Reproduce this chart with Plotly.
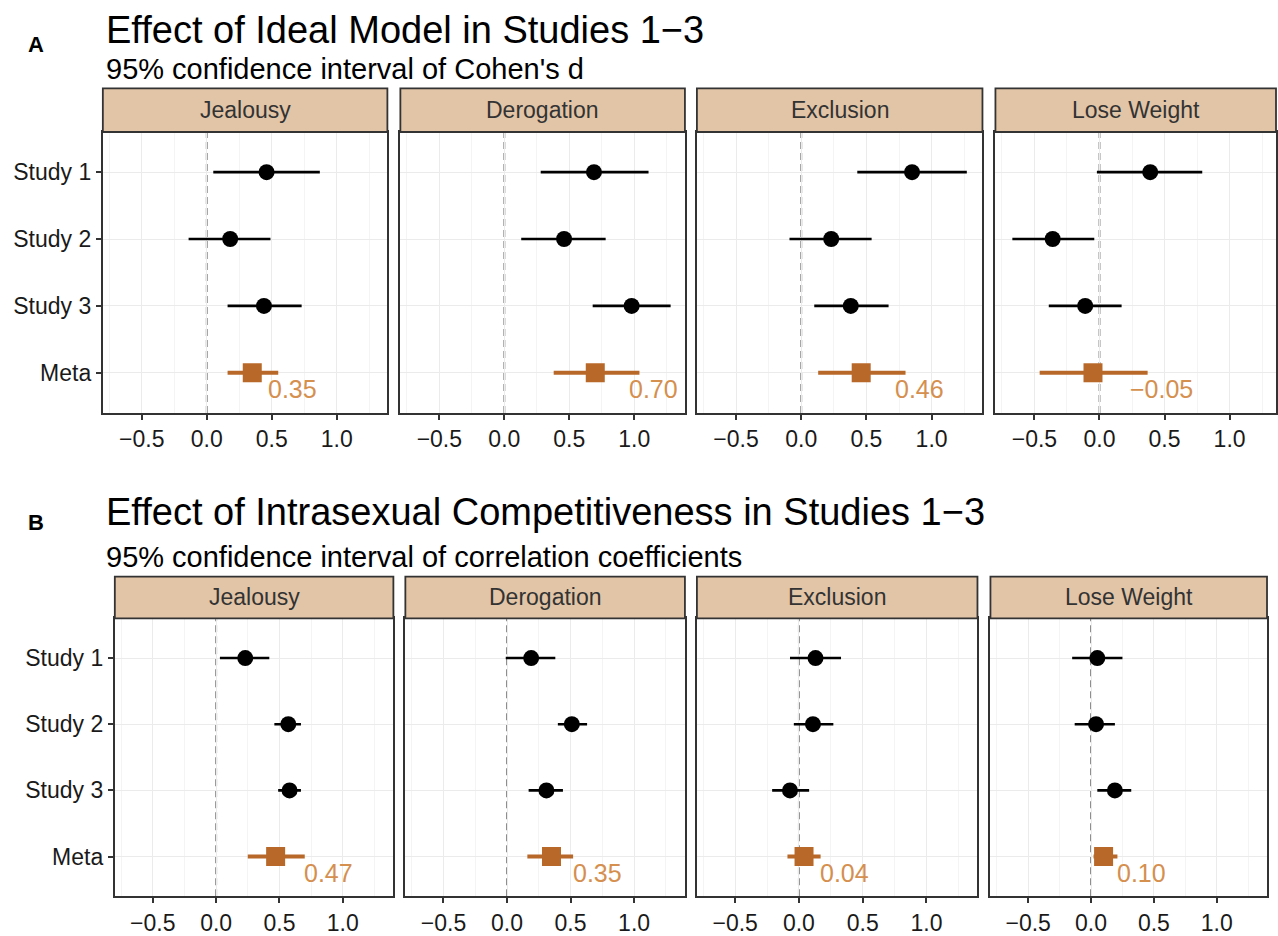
import plotly.graph_objects as go

W, H = 1278, 936

studies = ["Study 1", "Study 2", "Study 3", "Meta"]
outcomes = ["Jealousy", "Derogation", "Exclusion", "Lose Weight"]
x_tickvals = [-0.5, 0.0, 0.5, 1.0]
x_ticktext = ["\u22120.5", "0.0", "0.5", "1.0"]

# Panel A: Cohen's d (rows: Study 1, Study 2, Study 3, Meta)
a_est = [[0.46, 0.18, 0.44, 0.35],
         [0.69, 0.46, 0.98, 0.70],
         [0.85, 0.23, 0.38, 0.46],
         [0.39, -0.36, -0.11, -0.05]]
a_lo = [[0.05, -0.14, 0.16, 0.16],
        [0.28, 0.13, 0.68, 0.38],
        [0.43, -0.09, 0.10, 0.13],
        [-0.02, -0.67, -0.39, -0.46]]
a_hi = [[0.87, 0.49, 0.73, 0.55],
        [1.11, 0.78, 1.28, 1.04],
        [1.27, 0.54, 0.67, 0.80],
        [0.79, -0.04, 0.17, 0.37]]

# Panel B: correlation coefficients
b_est = [[0.23, 0.57, 0.58, 0.47],
         [0.19, 0.51, 0.31, 0.35],
         [0.13, 0.11, -0.07, 0.04],
         [0.05, 0.04, 0.19, 0.10]]
b_lo = [[0.03, 0.46, 0.49, 0.25],
        [-0.01, 0.40, 0.17, 0.16],
        [-0.07, -0.04, -0.21, -0.09],
        [-0.15, -0.13, 0.05, 0.02]]
b_hi = [[0.42, 0.67, 0.67, 0.70],
        [0.38, 0.63, 0.44, 0.52],
        [0.33, 0.27, 0.08, 0.17],
        [0.25, 0.19, 0.32, 0.21]]

FONT = "Liberation Sans, Arial, Helvetica, sans-serif"
DARK = "#333333"
STRIP = "#E2C5A7"
META_COL = "#B8692A"
META_TXT = "#D58F4E"
GRID = "#EBEBEB"
MINOR = "#F4F4F4"

rows = [
    dict(est=a_est, lo=a_lo, hi=a_hi, panel_y=(133, 416), strip_y=(89, 133),
         xs=[(103, 388), (401, 686), (698, 984), (997, 1278)],
         ranges=[(-0.8, 1.39), (-0.8, 1.39), (-0.8, 1.39), (-0.8, 1.357)],
         letter="A", letter_y=45, title="Effect of Ideal Model in Studies 1\u22123", title_y=30,
         subtitle="95% confidence interval of Cohen's d", subtitle_y=70, lab_dx=14),
    dict(est=b_est, lo=b_lo, hi=b_hi, panel_y=(623, 903), strip_y=(581, 623),
         xs=[(115, 394), (406, 686), (698, 979), (992, 1269)],
         ranges=[(-0.8, 1.40)] * 4,
         letter="B", letter_y=526, title="Effect of Intrasexual Competitiveness in Studies 1\u22123", title_y=516,
         subtitle="95% confidence interval of correlation coefficients", subtitle_y=561, lab_dx=24),
]

fig = go.Figure()
layout = {}
shapes = []
annotations = []

n = 0
for r in rows:
    py0, py1 = r["panel_y"]
    for j, outcome in enumerate(outcomes):
        n += 1
        xa = "x" if n == 1 else f"x{n}"
        ya = "y" if n == 1 else f"y{n}"
        px0, px1 = r["xs"][j]
        est, lo, hi = r["est"][j], r["lo"][j], r["hi"][j]

        # studies (black)
        fig.add_trace(go.Scatter(
            x=est[:3], y=studies[:3], mode="markers", xaxis=xa, yaxis=ya,
            marker=dict(symbol="circle", size=16, color="black"),
            error_x=dict(type="data", symmetric=False,
                         array=[h - e for h, e in zip(hi[:3], est[:3])],
                         arrayminus=[e - l for e, l in zip(est[:3], lo[:3])],
                         width=0, thickness=2.6, color="black"),
            showlegend=False, hoverinfo="skip"))
        # meta (orange square)
        fig.add_trace(go.Scatter(
            x=est[3:], y=studies[3:], mode="markers", xaxis=xa, yaxis=ya,
            marker=dict(symbol="square", size=19, color=META_COL),
            error_x=dict(type="data", symmetric=False,
                         array=[hi[3] - est[3]], arrayminus=[est[3] - lo[3]],
                         width=0, thickness=4, color=META_COL),
            showlegend=False, hoverinfo="skip"))

        lab = f"{est[3]:.2f}".replace("-", "\u2212")
        annotations.append(dict(x=hi[3], y="Meta", xref=xa, yref=ya, text=lab,
                                showarrow=False, xanchor="center", yanchor="middle",
                                xshift=r["lab_dx"], yshift=-16,
                                font=dict(family=FONT, size=25, color=META_TXT)))

        # zero dashed line
        shapes.append(dict(type="line", xref=xa, yref=f"{ya} domain", x0=0, x1=0, y0=0, y1=1,
                           line=dict(color="#8E8E8E", width=2, dash="7px,4px"), layer="below"))

        first = (j == 0)
        layout["xaxis" if n == 1 else f"xaxis{n}"] = dict(
            domain=[px0 / W, px1 / W], anchor=ya, range=list(r["ranges"][j]),
            tickvals=x_tickvals, ticktext=x_ticktext, ticks="outside", ticklen=5,
            tickwidth=1.5, tickcolor=DARK, showgrid=True, gridcolor=GRID, gridwidth=1.4,
            minor=dict(dtick=0.25, tick0=0, showgrid=True, gridcolor=MINOR, gridwidth=1, ticks=""),
            zeroline=False, showline=True, mirror=True, linecolor=DARK, linewidth=2,
            tickfont=dict(family=FONT, size=23, color="#1a1a1a"), fixedrange=True)
        layout["yaxis" if n == 1 else f"yaxis{n}"] = dict(
            domain=[1 - py1 / H, 1 - py0 / H], anchor=xa, type="category",
            categoryorder="array", categoryarray=studies, range=[3.6, -0.6],
            showgrid=True, gridcolor=GRID, gridwidth=1.4, zeroline=False,
            showline=True, mirror=True, linecolor=DARK, linewidth=2,
            ticks="outside" if first else "", ticklen=5, tickwidth=1.5, tickcolor=DARK,
            showticklabels=first, tickfont=dict(family=FONT, size=23, color="#1a1a1a"),
            fixedrange=True)

        # strip
        sy0, sy1 = r["strip_y"]
        shapes.append(dict(type="rect", xref="paper", yref="paper",
                           x0=px0 / W, x1=px1 / W, y0=1 - sy1 / H, y1=1 - sy0 / H,
                           fillcolor=STRIP, line=dict(color=DARK, width=1.8), layer="above"))
        annotations.append(dict(x=(px0 + px1) / 2 / W, y=1 - (sy0 + sy1) / 2 / H,
                                xref="paper", yref="paper", text=outcome, showarrow=False,
                                xanchor="center", yanchor="middle",
                                font=dict(family=FONT, size=23, color="#333333")))

    # titles
    annotations.append(dict(x=36 / W, y=1 - r["letter_y"] / H, xref="paper", yref="paper",
                            text=f"<b>{r['letter']}</b>", showarrow=False, xanchor="center",
                            yanchor="middle", font=dict(family=FONT, size=22, color="black")))
    annotations.append(dict(x=104 / W, y=1 - r["title_y"] / H, xref="paper", yref="paper",
                            text=r["title"], showarrow=False, xanchor="left", yanchor="middle",
                            font=dict(family=FONT, size=38, color="black")))
    annotations.append(dict(x=104 / W, y=1 - r["subtitle_y"] / H, xref="paper", yref="paper",
                            text=r["subtitle"], showarrow=False, xanchor="left", yanchor="middle",
                            font=dict(family=FONT, size=29, color="black")))

fig.update_layout(width=W, height=H, autosize=False, margin=dict(l=0, r=0, t=0, b=0),
                  paper_bgcolor="white", plot_bgcolor="white", showlegend=False,
                  shapes=shapes, annotations=annotations, **layout)

fig.write_html("out.html", config={"displayModeBar": False},
               post_script="document.body.style.margin='0';document.body.style.overflow='hidden';")
